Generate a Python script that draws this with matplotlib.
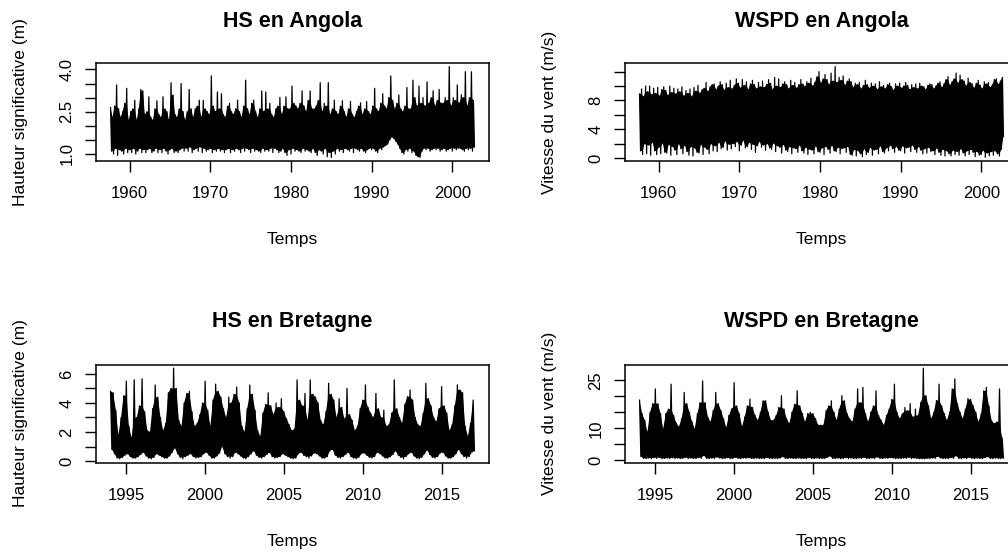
import numpy as np
import matplotlib
matplotlib.use("Agg")
import matplotlib.pyplot as plt

plt.rcParams['font.family'] = ['Liberation Sans', 'DejaVu Sans']

# ---------------------------------------------------------------------------
# Angola: quarterly upper / lower envelopes, first sample 1957.625
# ---------------------------------------------------------------------------
angola_start = 1957.625
angola_step = 0.25

hs_angola_hi = [
    2.65,
    2.3, 2.7, 3.45, 2.6,   2.3, 2.5, 2.8, 3.33,   2.2, 2.5, 2.6, 2.91,
    2.2, 2.6, 3.29, 3.24,  2.4, 2.5, 3.03, 2.3,   2.2, 2.6, 2.89, 2.4,
    2.3, 3.03, 2.6, 2.5,   2.2, 3.53, 3.09, 2.4,  2.3, 2.6, 3.50, 2.5,
    2.2, 2.5, 3.29, 2.6,   2.3, 2.6, 2.7, 2.91,   2.3, 2.9, 2.6, 2.5,
    2.4, 3.77, 2.7, 2.5,   3.20, 2.6, 3.14, 2.4,  2.3, 2.7, 2.8, 2.5,
    2.4, 2.6, 2.91, 2.5,   2.3, 2.7, 3.62, 2.6,   2.4, 2.8, 2.91, 2.5,
    2.3, 2.6, 3.24, 2.5,   3.20, 2.6, 2.8, 2.4,   2.3, 2.6, 2.7, 3.01,
    2.4, 2.7, 3.03, 2.6,   2.6, 3.41, 2.8, 2.7,   2.6, 2.8, 3.24, 2.7,
    2.5, 2.9, 3.24, 2.6,   2.6, 2.7, 2.9, 3.53,   2.5, 2.8, 2.7, 3.53,
    2.4, 2.6, 2.91, 2.5,   2.4, 2.7, 2.89, 2.5,   2.3, 2.6, 2.86, 2.4,
    2.3, 2.5, 2.7, 2.82,   2.4, 2.6, 2.86, 2.5,   2.4, 2.7, 3.33, 2.6,
    2.5, 2.8, 3.14, 2.7,   2.6, 3.0, 3.77, 2.9,   2.6, 2.8, 3.09, 2.6,
    2.5, 2.7, 3.36, 2.6,   2.6, 3.62, 3.0, 2.7,   3.41, 2.8, 3.0, 2.7,
    3.56, 2.8, 3.0, 3.24,  2.7, 2.9, 3.29, 2.8,   2.8, 3.0, 2.9, 4.10,
    2.7, 3.0, 2.9, 3.45,   2.8, 3.1, 3.0, 3.92,   2.7, 3.0, 3.92, 2.9,
]
hs_angola_lo = [
    1.1,
    1.0, 1.2, 0.95, 1.15,  1.1, 1.0, 1.2, 1.05,   1.15, 1.05, 1.2, 1.0,
    1.1, 1.2, 1.05, 1.15,  1.05, 1.15, 1.2, 1.05, 1.1, 1.2, 1.05, 1.15,
    1.05, 1.2, 1.1, 1.0,   1.15, 1.2, 1.05, 1.1,  1.05, 1.15, 1.2, 1.1,
    1.2, 1.1, 1.25, 1.05,  1.15, 1.2, 1.1, 1.25,  1.05, 1.2, 1.1, 1.15,
    1.2, 1.05, 1.15, 1.1,  1.2, 1.1, 1.15, 1.05,  1.15, 1.2, 1.05, 1.15,
    1.1, 1.2, 1.15, 1.05,  1.2, 1.1, 1.2, 1.15,   1.05, 1.2, 1.1, 1.15,
    1.1, 1.05, 1.2, 1.1,   1.15, 1.1, 1.2, 1.05,  1.2, 1.15, 1.05, 1.1,
    1.2, 1.05, 0.95, 1.15, 1.0, 1.2, 1.1, 1.15,   1.1, 1.05, 1.2, 1.1,
    1.15, 1.1, 1.05, 1.2,  1.05, 0.95, 1.15, 1.1, 1.0, 1.2, 0.9, 1.05,
    0.88, 1.1, 1.0, 1.2,   1.1, 1.15, 1.05, 1.2,  1.15, 1.1, 1.2, 1.05,
    1.2, 1.15, 1.1, 1.2,   1.1, 1.05, 1.15, 1.2,  1.15, 1.2, 1.1, 1.05,
    1.2, 1.15, 1.25, 1.3,  1.35, 1.5, 1.6, 1.55,  1.45, 1.35, 1.2, 1.05,
    1.0, 1.15, 1.1, 1.2,   1.05, 1.1, 0.95, 0.9,  0.88, 1.1, 1.2, 1.15,
    1.2, 1.1, 1.15, 1.2,   1.15, 1.2, 1.1, 1.15,  1.2, 1.1, 1.15, 1.2,
    1.1, 1.2, 1.15, 1.2,   1.2, 1.15, 1.1, 1.2,   1.15, 1.2, 1.1, 1.25,
]
wspd_angola_hi = [
    8.9,
    9.6, 8.5, 10.0, 9.2,   10.0, 8.8, 9.7, 9.0,   9.8, 8.6, 9.5, 9.9,
    9.4, 8.7, 10.0, 9.1,   9.7, 8.9, 9.6, 9.2,    9.9, 8.6, 9.4, 9.0,
    9.6, 8.5, 9.8, 9.3,    10.1, 9.0, 9.5, 9.7,   10.5, 9.2, 9.9, 10.2,
    10.3, 9.5, 10.0, 10.6, 10.2, 9.4, 10.4, 9.8,  10.8, 9.6, 10.1, 11.0,
    10.4, 9.7, 10.9, 10.1, 10.6, 9.5, 10.3, 10.8, 10.2, 9.6, 10.5, 9.9,
    10.7, 9.8, 10.2, 10.9, 10.4, 9.5, 11.2, 10.0, 11.0, 9.8, 10.3, 10.6,
    10.2, 9.6, 10.8, 10.1, 10.5, 9.7, 10.2, 10.9, 10.3, 9.9, 10.6, 10.4,
    11.1, 10.0, 10.5, 11.3, 12.0, 10.4, 11.0, 11.6, 10.9, 10.2, 11.8, 10.7,
    12.7, 10.5, 11.2, 10.8, 11.4, 10.1, 10.7, 11.0, 10.6, 9.8, 10.4, 10.2,
    10.5, 9.6, 10.1, 10.8, 10.2, 9.7, 10.4, 10.0, 10.3, 9.5, 10.6, 9.9,
    10.1, 9.6, 10.2, 10.4, 9.9, 9.4, 10.3, 10.0,  10.4, 9.7, 10.0, 10.5,
    10.1, 9.5, 10.2, 9.8,  10.3, 9.6, 10.4, 10.0, 9.9, 9.5, 10.1, 10.3,
    10.2, 9.6, 10.0, 10.4, 10.6, 9.8, 10.3, 10.9, 11.3, 10.1, 10.6, 11.0,
    11.8, 10.4, 11.5, 10.9, 10.7, 10.0, 11.1, 10.5, 10.3, 9.7, 10.4, 10.8,
    10.1, 9.6, 10.6, 10.3, 10.5, 9.8, 10.2, 10.9, 11.0, 10.2, 10.7, 11.2,
]
wspd_angola_lo = [
    1.0,
    0.5, 2.0, 0.6, 1.8,    0.4, 2.2, 1.0, 0.5,    1.5, 0.6, 2.1, 0.8,
    0.7, 1.9, 0.4, 1.6,    1.1, 0.5, 2.0, 1.3,    0.6, 1.8, 0.9, 0.4,
    1.6, 0.3, 1.4, 0.8,    0.7, 1.9, 0.5, 1.5,    1.2, 0.6, 2.0, 1.0,
    1.7, 0.9, 2.2, 1.3,    1.5, 2.4, 1.1, 1.9,    1.3, 2.0, 1.6, 2.3,
    1.0, 1.8, 2.5, 1.4,    1.6, 2.2, 1.2, 1.9,    0.8, 1.7, 2.3, 1.5,
    1.8, 1.1, 2.0, 1.4,    1.2, 2.1, 0.9, 1.7,    1.5, 0.7, 1.9, 1.1,
    0.9, 1.6, 0.6, 1.4,    1.3, 0.8, 1.8, 1.0,    0.7, 1.5, 0.5, 1.2,
    1.1, 0.6, 1.7, 0.9,    0.8, 1.4, 0.5, 1.6,    1.2, 0.7, 1.8, 1.0,
    0.9, 1.5, 0.6, 1.3,    1.4, 0.8, 1.6, 0.5,    0.4, 1.2, 0.3, 1.0,
    0.6, 0.2, 1.3, 0.5,    0.8, 1.5, 0.4, 1.1,    1.2, 0.6, 1.7, 0.9,
    0.7, 1.4, 1.0, 1.8,    1.3, 0.8, 1.6, 1.1,    1.0, 1.7, 0.7, 1.4,
    1.5, 0.9, 1.8, 1.2,    0.8, 1.6, 1.1, 0.6,    1.3, 0.7, 1.5, 0.9,
    1.0, 0.5, 1.4, 0.8,    0.4, 1.2, 0.3, 1.0,    0.6, 0.3, 1.1, 0.5,
    0.9, 0.4, 1.3, 0.7,    0.3, 1.0, 0.5, 1.2,    0.8, 0.2, 0.9, 0.4,
    0.5, 1.1, 0.1, 0.7,    0.3, 0.9, 0.4, 1.0,    0.6, 0.3, 1.2, 3.0,
]

# ---------------------------------------------------------------------------
# Bretagne: bimonthly upper / lower envelopes, first sample 1994.0
# ---------------------------------------------------------------------------
bretagne_start = 1994.0
bretagne_step = 1.0 / 6.0

hs_bretagne_hi = [
    4.8, 4.7, 3.5, 1.8, 3.0, 4.5,        # 1994
    5.5, 2.4, 1.6, 5.6, 3.0, 3.8,        # 1995
    5.66, 3.4, 2.1, 2.0, 3.6, 5.24,      # 1996
    4.4, 3.0, 2.1, 2.6, 4.7, 5.0,        # 1997
    6.4, 5.0, 2.8, 2.4, 4.0, 4.66,       # 1998
    4.8, 3.4, 2.4, 2.6, 3.2, 4.0,        # 1999
    5.5, 3.5, 2.4, 4.2, 5.3, 4.8,        # 2000
    4.4, 3.6, 3.0, 4.4, 4.0, 4.6,        # 2001
    5.1, 4.0, 2.4, 2.0, 3.6, 5.24,       # 2002
    4.6, 3.5, 2.1, 1.7, 3.3, 3.9,        # 2003
    4.7, 3.8, 3.2, 4.0, 3.7, 4.3,        # 2004
    3.4, 2.9, 2.5, 2.1, 2.2, 5.59,       # 2005
    4.2, 3.8, 4.66, 2.8, 5.59, 4.6,      # 2006
    4.4, 4.0, 2.8, 2.5, 3.4, 5.36,       # 2007
    4.6, 4.2, 3.0, 4.3, 3.7, 2.9,        # 2008
    5.0, 3.2, 2.8, 2.1, 2.4, 3.6,        # 2009
    4.2, 5.24, 3.7, 3.3, 3.0, 4.66,      # 2010
    3.6, 3.0, 3.5, 2.4, 2.5, 3.3,        # 2011
    5.59, 3.6, 3.0, 2.6, 3.9, 4.43,      # 2012
    4.9, 4.2, 3.0, 2.5, 2.4, 3.3,        # 2013
    5.36, 4.3, 3.8, 3.0, 2.7, 3.6,       # 2014
    5.13, 3.8, 3.3, 2.1, 2.5, 3.8,       # 2015
    5.25, 4.9, 4.7, 2.4, 1.7, 2.6,       # 2016
    4.2,                                 # 2017
]
hs_bretagne_lo = [
    0.8, 0.5, 0.2, 0.15, 0.25, 0.4,
    0.5, 0.3, 0.2, 0.2, 0.3, 0.45,
    0.6, 0.35, 0.2, 0.15, 0.25, 0.5,
    0.4, 0.3, 0.2, 0.2, 0.35, 0.6,
    0.9, 0.5, 0.25, 0.15, 0.3, 0.4,
    0.5, 0.3, 0.2, 0.25, 0.3, 0.5,
    0.6, 0.4, 0.2, 0.2, 0.35, 0.55,
    1.0, 0.5, 0.3, 0.2, 0.3, 0.6,
    0.5, 0.35, 0.2, 0.15, 0.3, 0.5,
    0.7, 0.4, 0.25, 0.2, 0.3, 0.45,
    0.6, 0.3, 0.2, 0.25, 0.3, 0.5,
    0.4, 0.3, 0.2, 0.15, 0.2, 0.5,
    0.6, 0.4, 0.3, 0.2, 0.35, 0.55,
    0.5, 0.35, 0.2, 0.2, 0.3, 0.7,
    0.8, 0.4, 0.25, 0.2, 0.3, 0.45,
    0.6, 0.3, 0.2, 0.15, 0.25, 0.5,
    0.55, 0.4, 0.25, 0.2, 0.3, 0.6,
    0.5, 0.35, 0.2, 0.2, 0.3, 0.45,
    0.7, 0.4, 0.25, 0.15, 0.3, 0.5,
    0.6, 0.35, 0.2, 0.15, 0.25, 0.5,
    0.75, 0.45, 0.25, 0.2, 0.3, 0.55,
    0.6, 0.35, 0.2, 0.2, 0.3, 0.5,
    0.8, 0.5, 0.3, 0.2, 0.3, 0.6,
    0.7,
]
wspd_bretagne_hi = [
    18.8, 14.5, 12.5, 8.8, 15.0, 17.7,    # 1994
    22.3, 17.7, 14.6, 9.8, 14.6, 16.0,    # 1995
    23.8, 14.0, 11.6, 10.5, 13.0, 21.2,   # 1996
    17.7, 15.0, 12.0, 9.8, 14.5, 18.0,    # 1997
    24.8, 18.0, 13.5, 12.0, 15.5, 21.2,   # 1998
    17.7, 15.5, 13.0, 10.2, 14.0, 16.0,   # 1999
    24.3, 17.0, 14.5, 10.5, 13.5, 17.0,   # 2000
    19.1, 16.5, 14.0, 12.5, 15.0, 18.6,   # 2001
    18.6, 15.0, 12.5, 12.5, 14.0, 16.5,   # 2002
    20.2, 16.0, 13.0, 11.5, 15.0, 17.5,   # 2003
    21.7, 17.0, 14.6, 12.0, 14.6, 15.0,   # 2004
    14.6, 13.0, 11.0, 11.0, 11.0, 15.5,   # 2005
    17.0, 18.6, 15.0, 12.5, 16.0, 20.2,   # 2006
    18.6, 14.6, 13.0, 12.0, 16.0, 22.3,   # 2007
    18.0, 22.8, 14.6, 12.0, 15.0, 17.0,   # 2008
    21.7, 14.0, 12.5, 11.0, 14.0, 16.0,   # 2009
    19.0, 23.8, 15.0, 13.0, 14.5, 16.5,   # 2010
    15.5, 17.7, 13.5, 16.0, 14.0, 18.0,   # 2011
    28.8, 20.2, 17.0, 13.0, 15.0, 18.7,   # 2012
    23.8, 17.0, 14.6, 12.5, 15.0, 22.3,   # 2013
    25.4, 17.7, 15.0, 13.0, 16.0, 19.3,   # 2014
    19.0, 17.0, 15.0, 12.0, 14.5, 21.7,   # 2015
    22.8, 17.0, 12.4, 11.5, 12.0, 22.3,   # 2016
    7.0,                                  # 2017
]
wspd_bretagne_lo = [
    1.2, 0.6, 0.5, 0.7, 0.5, 0.8,
    0.6, 0.9, 0.5, 0.6, 0.7, 0.5,
    0.8, 0.5, 0.7, 0.5, 0.6, 0.9,
    0.5, 0.7, 0.6, 0.5, 0.8, 0.6,
    1.5, 0.6, 0.5, 0.7, 0.5, 1.0,
    0.7, 0.5, 0.6, 0.8, 0.5, 0.6,
    0.9, 0.6, 0.5, 0.7, 0.6, 0.8,
    0.6, 0.5, 0.7, 0.5, 0.6, 0.5,
    0.8, 0.6, 0.5, 0.6, 0.5, 0.7,
    1.1, 0.6, 0.5, 0.7, 0.6, 0.5,
    0.7, 0.5, 0.6, 0.5, 0.8, 0.6,
    0.5, 0.7, 0.6, 0.5, 0.6, 0.9,
    1.3, 0.6, 0.5, 0.7, 0.5, 0.6,
    0.8, 0.5, 0.7, 0.6, 0.5, 0.7,
    0.6, 0.9, 0.5, 0.6, 0.7, 0.5,
    1.0, 0.6, 0.5, 0.7, 0.6, 0.8,
    0.7, 0.5, 0.6, 0.5, 0.7, 0.6,
    0.9, 0.5, 0.7, 0.6, 0.5, 0.5,
    0.45, 0.6, 0.5, 0.7, 0.6, 1.2,
    0.7, 0.5, 0.6, 0.5, 0.8, 0.6,
    1.4, 0.6, 0.5, 0.7, 0.5, 0.9,
    0.6, 0.5, 0.7, 0.6, 0.5, 0.8,
    1.1, 0.6, 0.5, 0.7, 0.6, 0.5,
    0.7,
]

# Axis ticks and the labels that are printed on them
angola_xticks = [1960, 1970, 1980, 1990, 2000]
bretagne_xticks = [1995, 2000, 2005, 2010, 2015]

hs_angola_yticks = [1.0, 1.5, 2.0, 2.5, 3.0, 3.5, 4.0]
hs_angola_ylabels = ['1.0', '', '', '2.5', '', '', '4.0']
wspd_angola_yticks = [0, 2, 4, 6, 8, 10, 12]
wspd_angola_ylabels = ['0', '', '4', '', '8', '', '']
hs_bretagne_yticks = [0, 1, 2, 3, 4, 5, 6]
hs_bretagne_ylabels = ['0', '', '2', '', '4', '', '6']
wspd_bretagne_yticks = [0, 5, 10, 15, 20, 25]
wspd_bretagne_ylabels = ['0', '', '10', '', '', '25']

titles = ['HS en Angola', 'WSPD en Angola', 'HS en Bretagne', 'WSPD en Bretagne']
ylabel_hs = 'Hauteur significative (m)'
ylabel_wspd = 'Vitesse du vent (m/s)'
xlabel_time = 'Temps'


def envelope(start, step, hi, lo):
    """Times of the upper samples and of the lower samples (half a step later)."""
    hi = np.asarray(hi, dtype=float)
    lo = np.asarray(lo, dtype=float)
    t = start + step * np.arange(len(hi))
    return t, hi, t + step / 2, lo


def core(v, upper=True):
    """Solid body of the trace: isolated peaks (or dips) are left to the line."""
    p = np.concatenate([[v[0]], v, [v[-1]]])
    prev, cur, nxt = p[:-2], p[1:-1], p[2:]
    if upper:
        return np.maximum(np.minimum(prev, cur), np.minimum(cur, nxt))
    return np.minimum(np.maximum(prev, cur), np.maximum(cur, nxt))


def padded(v, frac=0.04):
    lo, hi = float(np.min(v)), float(np.max(v))
    d = (hi - lo) * frac
    return lo - d, hi + d


W, H = 1008, 554
fig = plt.figure(figsize=(W / 100, H / 100), dpi=100)
fig.patch.set_facecolor('white')


def add_axes_px(left, top, width, height):
    return fig.add_axes([left / W, 1 - (top + height) / H, width / W, height / H])


panels = [
    (add_axes_px(96, 63, 393, 98), titles[0], ylabel_hs,
     envelope(angola_start, angola_step, hs_angola_hi, hs_angola_lo),
     angola_xticks, hs_angola_yticks, hs_angola_ylabels, 1.421),
    (add_axes_px(625, 63, 393, 98), titles[1], ylabel_wspd,
     envelope(angola_start, angola_step, wspd_angola_hi, wspd_angola_lo),
     angola_xticks, wspd_angola_yticks, wspd_angola_ylabels, 1.421),
    (add_axes_px(96, 364.5, 393, 98), titles[2], ylabel_hs,
     envelope(bretagne_start, bretagne_step, hs_bretagne_hi, hs_bretagne_lo),
     bretagne_xticks, hs_bretagne_yticks, hs_bretagne_ylabels, 1.437),
    (add_axes_px(625, 364.5, 393, 98), titles[3], ylabel_wspd,
     envelope(bretagne_start, bretagne_step, wspd_bretagne_hi, wspd_bretagne_lo),
     bretagne_xticks, wspd_bretagne_yticks, wspd_bretagne_ylabels, 1.437),
]

for ax, title, ylab, (t_hi, v_hi, t_lo, v_lo), xt, yt, yl, title_y in panels:
    # dense series: solid core between the envelopes, thin trace on top
    px = np.concatenate([t_hi, t_lo[::-1]])
    py = np.concatenate([core(v_hi, True), core(v_lo, False)[::-1]])
    ax.fill(px, py, color='black', lw=0)
    zx = np.empty(2 * len(t_hi))
    zy = np.empty(2 * len(t_hi))
    zx[0::2], zx[1::2] = t_hi, t_lo
    zy[0::2], zy[1::2] = v_hi, v_lo
    ax.plot(zx, zy, color='black', lw=0.9)

    ax.set_xlim(*padded(zx))
    ax.set_ylim(*padded(zy))

    ax.set_xticks(xt)
    ax.set_xticklabels([str(v) for v in xt])
    ax.set_yticks(yt)
    ax.set_yticklabels(yl, rotation=90, va='center')

    ax.tick_params(axis='both', direction='out', length=8, width=1.0,
                   labelsize=12, color='black')
    ax.tick_params(axis='x', pad=10)
    ax.tick_params(axis='y', pad=7.5)
    for s in ax.spines.values():
        s.set_linewidth(1.1)
        s.set_color('black')

    ax.text(0.5, title_y, title, transform=ax.transAxes, ha='center',
            va='center', fontsize=15.5, fontweight='bold')

    ax.set_xlabel(xlabel_time, fontsize=12.5)
    ax.xaxis.set_label_coords(0.5, -0.806)
    ax.xaxis.label.set_verticalalignment('center')
    ax.set_ylabel(ylab, fontsize=12.5)
    ax.yaxis.set_label_coords(-0.193, 0.5)
    ax.yaxis.label.set_verticalalignment('center')

fig.savefig('out.png', dpi=100, facecolor='white')
